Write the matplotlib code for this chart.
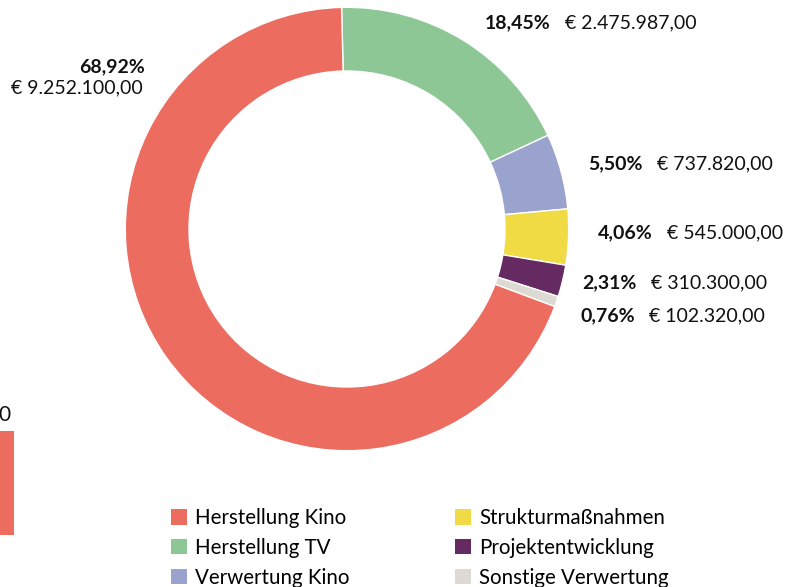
import matplotlib.pyplot as plt
from matplotlib.patches import Patch

plt.rcParams['font.family'] = ['Lato', 'DejaVu Sans']

# Förderbeträge je Bereich
categories = ['Herstellung Kino', 'Herstellung TV', 'Verwertung Kino',
              'Strukturmaßnahmen', 'Projektentwicklung', 'Sonstige Verwertung']
amounts = [9252100.00, 2475987.00, 737820.00, 545000.00, 310300.00, 102320.00]
colors = ['#EC6C60', '#8EC796', '#9AA3CE', '#F1DB44', '#642A61', '#DDD9D3']

# pie order: TV first at the top, going clockwise, Kino last
pie_order = [1, 2, 3, 4, 5, 0]

W, H = 794, 587
fig = plt.figure(figsize=(W / 100, H / 100), dpi=100)
ax = fig.add_axes([0, 0, 1, 1])


def fy(y):
    # pixel row (from top) -> data y
    return H - y


total = sum(amounts)
ax.pie([amounts[i] for i in pie_order], colors=[colors[i] for i in pie_order],
       center=(347, fy(229)), radius=221.7, startangle=91.4, counterclock=False,
       wedgeprops=dict(width=221.7 - 158, edgecolor='white', linewidth=1))


def de_num(v):
    s = f'{v:,.2f}'
    return s.replace(',', 'X').replace('.', ',').replace('X', '.')


def pct(v):
    return f'{v / total * 100:.2f}'.replace('.', ',') + '%'


fs = 14
# Herstellung Kino label, stacked on the left
ax.text(145, fy(67), pct(amounts[0]), ha='right', va='center',
        fontsize=fs, fontweight='bold', color='#111111')
ax.text(143, fy(88), '€ ' + de_num(amounts[0]), ha='right', va='center',
        fontsize=fs, color='#111111')

# remaining labels on the right: (pct right edge, euro left edge, row)
label_pos = {1: (551, 565, 23), 2: (643, 657, 164), 3: (653, 667, 233),
             4: (637, 651, 283), 5: (635, 649, 316)}
for i, (xp, xe, y) in label_pos.items():
    ax.text(xp, fy(y), pct(amounts[i]), ha='right', va='center',
            fontsize=fs, fontweight='bold', color='#111111')
    ax.text(xe, fy(y), '€ ' + de_num(amounts[i]), ha='left', va='center',
            fontsize=fs, color='#111111')

# cut-off neighbour bar at the left edge
ax.bar(-40, 104, width=54, bottom=fy(535), align='edge', color=colors[0])
ax.text(-2, fy(415), '0', ha='left', va='center', fontsize=15, color='#111111')

handles = [Patch(facecolor=c, edgecolor='none') for c in colors]
ax.legend(handles, categories, ncol=2, loc='upper left', frameon=False,
          bbox_to_anchor=(163 / W, 1 - 500 / H), fontsize=14.8,
          handlelength=0.78, handleheight=0.78, handletextpad=0.4,
          labelspacing=0.47, columnspacing=5.1, borderaxespad=0)

ax.set_xlim(0, W)
ax.set_ylim(0, H)
ax.set_aspect('equal')
ax.axis('off')
fig.savefig('out.png', dpi=100)
